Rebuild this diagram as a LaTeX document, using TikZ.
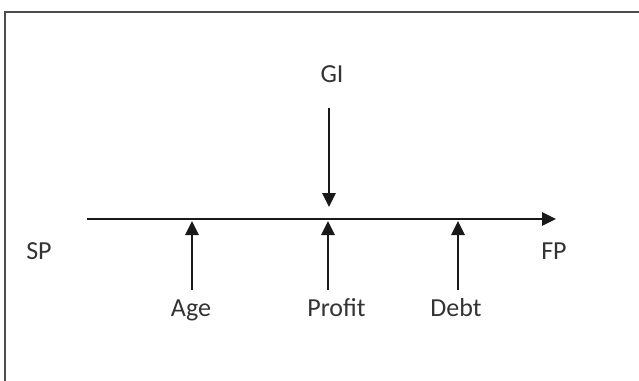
\documentclass[tikz,border=0pt]{standalone}
\usepackage{fontspec}
\setmainfont{Carlito}
\usetikzlibrary{arrows.meta}
\tikzset{
  ln/.style={line width=1.3pt, draw=black!90},
  arr/.style={ln, -{Triangle[width=6.5pt,length=7pt]}},
  lbl/.style={anchor=base, inner sep=0pt, text=black!80},
}
\begin{document}
\begin{tikzpicture}[x=0.5pt,y=-0.5pt, font=\fontsize{13}{15}\selectfont]
\useasboundingbox (0,0) rectangle (639,381);
\begin{scope}
\clip (0,0) rectangle (639,381);
\draw[line width=1.4pt, draw=black!70] (5,12) rectangle (680,420);
\end{scope}
% labels
\node[lbl] (SP) at (39,259) {SP};
\node[lbl] (FP) at (554,259) {FP};
\node[lbl] (GI) at (332,82) {GI};
\node[lbl] (Age) at (191,316) {Age};
\node[lbl] (Profit) at (336.5,316) {Profit};
\node[lbl] (Debt) at (456,316) {Debt};
% axis
\coordinate (axS) at (87,219);
\coordinate (axE) at (556,219);
\draw[arr] (axS) -- (axE);
% GI arrow
\coordinate (giTop) at (329,108);
\coordinate (giTip) at (329,207);
\draw[arr] (giTop) -- (giTip);
% up arrows
\coordinate (ageBot) at (192,290);
\coordinate (ageTip) at (192,221);
\coordinate (profBot) at (328,290);
\coordinate (profTip) at (328,221);
\coordinate (debtBot) at (458,290);
\coordinate (debtTip) at (458,221);
\draw[arr] (ageBot) -- (ageTip);
\draw[arr] (profBot) -- (profTip);
\draw[arr] (debtBot) -- (debtTip);
\end{tikzpicture}
\end{document}
